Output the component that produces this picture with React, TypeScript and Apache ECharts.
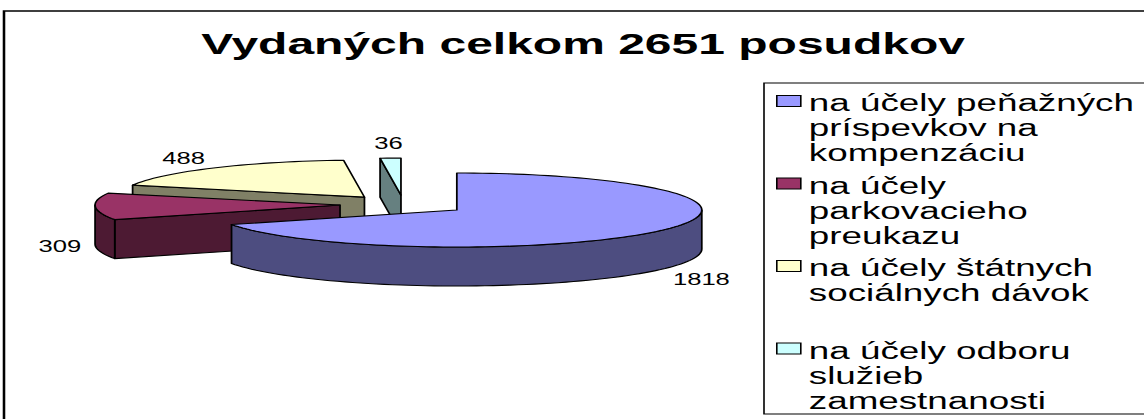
import { useEffect, useRef } from 'react';
import * as echarts from 'echarts';

// ---- data ----
const titleText = 'Vydaných celkom 2651 posudkov';
const categories = [
  'na účely peňažných\npríspevkov na\nkompenzáciu',
  'na účely\nparkovacieho\npreukazu',
  'na účely štátnych\nsociálnych dávok',
  'na účely odboru\nslužieb\nzamestnanosti',
];
const values = [1818, 309, 488, 36];
const palette = ['#9999FF', '#993366', '#FFFFCC', '#CCFFFF'];

// ---- layout (the original Excel picture is stretched horizontally) ----
const S = 1.6;
const W = 1144 / S;
const H = 419;
const FONT = '"Liberation Sans", Arial, Helvetica, sans-serif';
const PIE = { cx: 252.3, cy: 204.7, rx: 153.1, ry: 37, depth: 39, explode: 0.26 };
const LABEL_SIZE = 16;
const TAU = Math.PI * 2;

function shade(hex: string, k: number) {
  const h = hex.replace('#', '');
  const r = Math.round(parseInt(h.slice(0, 2), 16) * k);
  const g = Math.round(parseInt(h.slice(2, 4), 16) * k);
  const b = Math.round(parseInt(h.slice(4, 6), 16) * k);
  return `rgb(${r},${g},${b})`;
}

export default function App() {
  const ref = useRef<HTMLDivElement>(null);
  useEffect(() => {
    const chart = echarts.init(ref.current!, null, { renderer: 'svg' });
    const total = values.reduce((a, b) => a + b, 0);
    const starts = values.map((_, i) => values.slice(0, i).reduce((a, b) => a + b, 0));
    const depthKey = values.map((v, i) => -Math.cos(((starts[i] + v / 2) / total) * TAU));
    const order = depthKey.map((d, i) => i).sort((a, b) => depthKey[a] - depthKey[b]);
    const rank: number[] = [];
    order.forEach((idx, r) => (rank[idx] = r));

    const renderItem = (params: any, api: any) => {
      const start = api.value(0);
      const val = api.value(1);
      const tot = api.value(2);
      const a0 = (start / tot) * TAU;
      const a1 = ((start + val) / tot) * TAU;
      const mid = (a0 + a1) / 2;
      const cx = PIE.cx + Math.sin(mid) * PIE.explode * PIE.rx;
      const cy = PIE.cy - Math.cos(mid) * PIE.explode * PIE.ry;
      const D = PIE.depth;
      const P = (a: number, dy = 0) => [cx + Math.sin(a) * PIE.rx, cy - Math.cos(a) * PIE.ry + dy];
      const arc = (from: number, to: number, dy: number) => {
        const n = Math.max(2, Math.ceil((to - from) / (Math.PI / 90)));
        const pts: number[][] = [];
        for (let k = 0; k <= n; k++) pts.push(P(from + ((to - from) * k) / n, dy));
        return pts;
      };
      const color = api.visual('color');
      const side = shade(color, 0.5);
      const st = (fill: string) => ({ fill, stroke: '#000', lineWidth: 1.1, lineJoin: 'round' });
      const children: any[] = [];
      if (Math.sin(a0) < -1e-6) {
        children.push({ type: 'polygon', shape: { points: [[cx, cy], P(a0), P(a0, D), [cx, cy + D]] }, style: st(side) });
      }
      if (Math.sin(a1) > 1e-6) {
        children.push({ type: 'polygon', shape: { points: [[cx, cy], P(a1), P(a1, D), [cx, cy + D]] }, style: st(side) });
      }
      const w0 = Math.max(a0, Math.PI / 2);
      const w1 = Math.min(a1, Math.PI * 1.5);
      if (w1 > w0) {
        children.push({
          type: 'polygon',
          shape: { points: [...arc(w0, w1, 0), ...arc(w0, w1, D).reverse()] },
          style: st(side),
        });
      }
      children.push({ type: 'polygon', shape: { points: [[cx, cy], ...arc(a0, a1, 0)] }, style: st(color) });
      // data label, placed outside the rim along the bisector
      const txt = String(val);
      const dirX = Math.sin(mid);
      const dirY = -Math.cos(mid);
      const halfW = (txt.length * 0.556 * LABEL_SIZE) / 2;
      const rimX = cx + dirX * PIE.rx;
      const lx = rimX + (dirX * 14) / S + Math.sign(dirX) * halfW * Math.min(1, Math.abs(dirX) * 2.5);
      const f = dirY >= 0 ? 1.02 + 0.25 * dirY : Math.max(-0.15, 1.02 + 1.4 * dirY);
      children.push({
        type: 'text',
        x: lx,
        y: cy + dirY * PIE.ry * 1.22 + D * f,
        style: { text: txt, fontSize: LABEL_SIZE, fontFamily: FONT, fill: '#000', align: 'center', verticalAlign: 'middle' },
      });
      return { type: 'group', children };
    };

    const series = categories.map((name, i) => ({
      type: 'custom',
      name,
      coordinateSystem: 'none',
      renderItem,
      data: [[starts[i], values[i], total]],
      itemStyle: { color: palette[i] },
      z: 2 + rank[i],
      silent: true,
    }));

    chart.setOption({
      animation: false,
      backgroundColor: '#fff',
      title: {
        text: titleText,
        left: 364.4,
        top: 29,
        padding: 0,
        textAlign: 'center',
        textVerticalAlign: 'top',
        textStyle: { fontSize: 30, fontWeight: 'bold', fontFamily: FONT, color: '#000' },
      },
      legend: {
        orient: 'vertical',
        left: 477.5,
        top: 83,
        padding: [7.5, 40, 0, 7.5],
        itemGap: 6.5,
        itemWidth: 15,
        itemHeight: 75,
        icon: 'path://M0,0M15,75M0,4.5H15V15.5H0Z',
        itemStyle: { borderColor: '#000', borderWidth: 1 },
        borderColor: '#000',
        borderWidth: 1,
        selectedMode: false,
        formatter: (name: string) => (name.split('\n').length < 3 ? name + '\n ' : name),
        textStyle: { fontSize: 23, fontFamily: FONT, color: '#000', lineHeight: 25 },
        data: categories,
      },
      graphic: [
        {
          type: 'rect',
          silent: true,
          z: -1,
          shape: { x: 2.5, y: 11, width: W + 20, height: H + 20 },
          style: { fill: 'none', stroke: '#000', lineWidth: 1.6 },
        },
      ],
      series,
    } as any);
    return () => chart.dispose();
  }, []);
  return (
    <div
      ref={ref}
      style={{
        position: 'absolute',
        left: 0,
        top: 0,
        width: W,
        height: H,
        transform: `scaleX(${S})`,
        transformOrigin: '0 0',
        background: '#fff',
      }}
    />
  );
}
